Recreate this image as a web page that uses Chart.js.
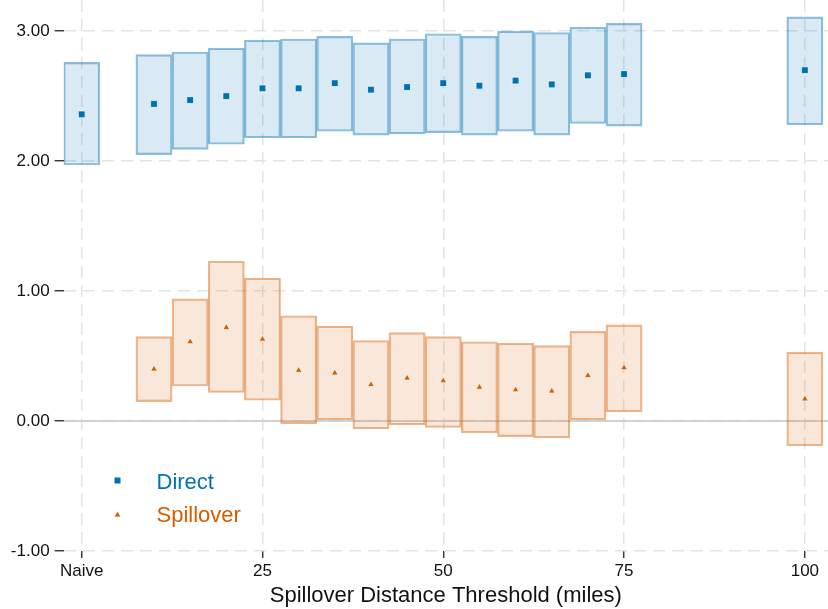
<!DOCTYPE html>
<html>
<head>
<meta charset="utf-8">
<script src="https://cdn.jsdelivr.net/npm/chart.js@4/dist/chart.umd.min.js"></script>
<style>
  html, body { margin: 0; padding: 0; background: #ffffff; }
  canvas { display: block; }
</style>
</head>
<body>
<canvas id="chart" width="828" height="609"></canvas>
<script>
// Distance thresholds (miles); 0 stands for the naive specification
const directX   = [0, 10, 15, 20, 25, 30, 35, 40, 45, 50, 55, 60, 65, 70, 75, 100];
const directEst = [2.36, 2.44, 2.47, 2.50, 2.56, 2.56, 2.60, 2.55, 2.57, 2.60, 2.58, 2.62, 2.59, 2.66, 2.67, 2.70];
const directLo  = [1.97, 2.05, 2.09, 2.13, 2.18, 2.18, 2.23, 2.20, 2.21, 2.22, 2.20, 2.23, 2.20, 2.29, 2.27, 2.28];
const directHi  = [2.76, 2.82, 2.84, 2.87, 2.93, 2.94, 2.96, 2.91, 2.94, 2.98, 2.96, 3.00, 2.99, 3.03, 3.06, 3.11];

const spillX    = [10, 15, 20, 25, 30, 35, 40, 45, 50, 55, 60, 65, 70, 75, 100];
const spillEst  = [0.40, 0.61, 0.72, 0.63, 0.39, 0.37, 0.28, 0.33, 0.31, 0.26, 0.24, 0.23, 0.35, 0.41, 0.17];
const spillLo   = [0.15, 0.27, 0.22, 0.16, -0.02, 0.01, -0.06, -0.03, -0.05, -0.09, -0.12, -0.13, 0.01, 0.07, -0.19];
const spillHi   = [0.65, 0.94, 1.23, 1.10, 0.81, 0.73, 0.62, 0.68, 0.65, 0.61, 0.60, 0.58, 0.69, 0.74, 0.53];

const xTicks      = [0, 25, 50, 75, 100];
const xTickLabels = ['Naive', '25', '50', '75', '100'];
const yTicks      = [-1, 0, 1, 2, 3];
const seriesNames = ['Direct', 'Spillover'];
const xTitle      = 'Spillover Distance Threshold (miles)';

const X_MIN = -2.5, X_MAX = 103.2;
const Y_MIN = -1, Y_MAX = 3.24;

const BLUE = '#0072b2';
const ORANGE = '#d55e00';
const FONT = "'Liberation Sans', Arial, Helvetica, sans-serif";

const toBoxes  = (xs, lo, hi) => xs.map((x, i) => ({ x: x, y: [lo[i], hi[i]] }));
const toPoints = (xs, est)    => xs.map((x, i) => ({ x: x, y: est[i] }));

// Legend drawn inside the plot, lower left
const insideLegend = {
  id: 'insideLegend',
  afterDraw(chart) {
    const ctx = chart.ctx;
    const items = [
      { text: seriesNames[0], color: BLUE,   style: 'rect',     r: 4.8, my: 480.5, ty: 488.5 },
      { text: seriesNames[1], color: ORANGE, style: 'triangle', r: 3.9, my: 515,   ty: 522 }
    ];
    ctx.save();
    items.forEach(it => {
      ctx.fillStyle = it.color;
      ctx.strokeStyle = 'rgba(255,255,255,0.7)';
      ctx.lineWidth = 1;
      Chart.helpers.drawPoint(ctx, { pointStyle: it.style, radius: it.r, borderWidth: 1, rotation: 0 }, 117.5, it.my);
      ctx.font = '22px ' + FONT;
      ctx.textAlign = 'left';
      ctx.textBaseline = 'alphabetic';
      ctx.fillText(it.text, 156.5, it.ty);
    });
    ctx.restore();
  }
};

const gridStyle = {
  color: '#e4e4e4',
  lineWidth: 1.5,
  tickColor: '#222222',
  tickWidth: 1.3,
  tickBorderDash: []
};
// In Chart.js v4 the dash pattern of grid lines lives under "border"
const borderStyle = { display: false, dash: [12, 7], dashOffset: 0 };

new Chart(document.getElementById('chart'), {
  type: 'bar',
  data: {
    datasets: [
      {
        type: 'line',
        label: 'zero',
        data: [{ x: X_MIN, y: 0 }, { x: X_MAX, y: 0 }],
        borderColor: '#c6c6c6',
        borderWidth: 1.5,
        pointRadius: 0,
        order: 5
      },
      {
        type: 'bar',
        label: seriesNames[0] + ' CI',
        data: toBoxes(directX, directLo, directHi),
        backgroundColor: 'rgba(0,114,178,0.15)',
        borderColor: 'rgba(0,114,178,0.45)',
        borderWidth: 1.5,
        borderSkipped: false,
        grouped: false,
        categoryPercentage: 1,
        barPercentage: 1,
        order: 3
      },
      {
        type: 'bar',
        label: seriesNames[1] + ' CI',
        data: toBoxes(spillX, spillLo, spillHi),
        backgroundColor: 'rgba(213,94,0,0.15)',
        borderColor: 'rgba(213,94,0,0.45)',
        borderWidth: 1.5,
        borderSkipped: false,
        grouped: false,
        categoryPercentage: 1,
        barPercentage: 1,
        order: 3
      },
      {
        type: 'line',
        label: seriesNames[0],
        data: toPoints(directX, directEst),
        showLine: false,
        pointStyle: 'rect',
        pointRadius: 4.8,
        pointBackgroundColor: BLUE,
        pointBorderColor: 'rgba(255,255,255,0.7)',
        pointBorderWidth: 1,
        order: 1
      },
      {
        type: 'line',
        label: seriesNames[1],
        data: toPoints(spillX, spillEst),
        showLine: false,
        pointStyle: 'triangle',
        pointRadius: 3.9,
        pointBackgroundColor: ORANGE,
        pointBorderColor: 'rgba(255,255,255,0.7)',
        pointBorderWidth: 1,
        order: 1
      }
    ]
  },
  options: {
    responsive: false,
    devicePixelRatio: 1,
    animation: false,
    events: [],
    layout: { autoPadding: false, padding: { left: 0, top: 0, right: 0, bottom: 0 } },
    plugins: {
      legend: { display: false },
      tooltip: { enabled: false }
    },
    scales: {
      x: {
        type: 'linear',
        min: X_MIN,
        max: X_MAX,
        offset: false,
        afterBuildTicks: s => { s.ticks = xTicks.map(v => ({ value: v })); },
        afterFit: s => { s.height = 58; s.paddingLeft = 0; s.paddingRight = 0; },
        border: borderStyle,
        grid: Object.assign({}, gridStyle, { offset: false, tickLength: 7 }),
        ticks: {
          color: '#111111',
          font: { family: FONT, size: 17 },
          padding: 3,
          maxRotation: 0,
          callback: v => xTickLabels[xTicks.indexOf(v)]
        },
        title: {
          display: true,
          text: xTitle,
          color: '#111111',
          font: { family: FONT, size: 22 },
          padding: { top: 0, bottom: 0 }
        }
      },
      y: {
        type: 'linear',
        min: Y_MIN,
        max: Y_MAX,
        afterBuildTicks: s => { s.ticks = yTicks.map(v => ({ value: v })); },
        afterFit: s => { s.width = 63.6; s.paddingTop = 0; s.paddingBottom = 0; },
        border: borderStyle,
        grid: Object.assign({}, gridStyle, { tickLength: 9 }),
        ticks: {
          color: '#111111',
          font: { family: FONT, size: 17 },
          padding: 5,
          callback: v => v.toFixed(2)
        }
      }
    }
  },
  plugins: [insideLegend]
});
</script>
</body>
</html>
